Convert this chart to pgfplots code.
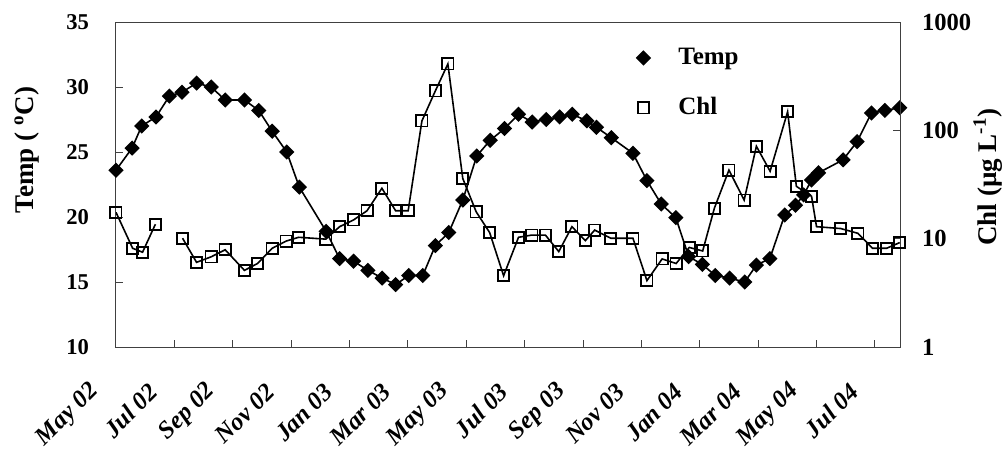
\documentclass[border=0pt]{standalone}
\usepackage{fontspec}
\setmainfont{Liberation Serif}
\usepackage{pgfplots}
\pgfplotsset{compat=1.18}

% Temp (left axis), months since May 2002
\pgfplotstableread{
m t
0 23.6
0.55 25.3
0.88 27.0
1.37 27.7
1.83 29.3
2.26 29.6
2.76 30.3
3.26 30.0
3.74 29.0
4.40 29.0
4.89 28.2
5.35 26.6
5.85 25.0
6.28 22.3
7.20 18.9
7.66 16.8
8.14 16.6
8.63 15.9
9.12 15.3
9.58 14.8
10.03 15.5
10.51 15.5
10.94 17.8
11.40 18.8
11.88 21.3
12.36 24.7
12.82 25.9
13.31 26.8
13.79 27.9
14.26 27.3
14.74 27.5
15.20 27.7
15.63 27.9
16.13 27.4
16.46 26.9
16.97 26.1
17.71 24.9
18.19 22.8
18.68 21.0
19.18 19.95
19.62 16.95
20.09 16.35
20.53 15.5
21.02 15.3
21.54 15.0
21.94 16.3
22.40 16.8
22.91 20.15
23.28 20.9
23.56 21.7
23.83 22.85
24.07 23.4
24.91 24.4
25.39 25.8
25.88 28.0
26.34 28.2
26.85 28.4
}\temp

% Chl (right axis, log)
\pgfplotstableread{
m c
0 17.5
0.57 8.15
0.91 7.5
1.35 13.6
1.83 nan
2.28 10.1
2.76 6.05
3.26 6.8
3.74 7.9
4.40 5.1
4.85 5.9
5.35 8.15
5.83 9.5
6.26 10.3
7.19 9.9
7.66 12.9
8.14 14.9
8.60 18.1
9.11 29.2
9.58 18.1
10.01 18.1
10.48 122
10.94 231
11.37 410
11.88 36
12.34 17.7
12.80 11.4
13.28 4.55
13.79 10.3
14.25 10.8
14.71 10.8
15.17 7.6
15.62 12.9
16.08 9.6
16.40 12.0
16.95 10.1
17.71 10.1
18.19 4.1
18.71 6.5
19.19 5.9
19.64 8.3
20.10 7.7
20.50 19.1
21.00 43
21.52 22.7
21.94 71.3
22.41 41.9
23.01 148.6
23.31 30.4
23.83 24.6
24.00 12.9
24.83 12.4
25.42 11.2
25.92 8.15
26.40 8.15
26.85 9.2
}\chl

\begin{document}
\begin{tikzpicture}
\useasboundingbox (-58pt,-52.5pt) rectangle (443pt,173.5pt);
\pgfplotsset{
  every axis/.append style={
    width=392pt, height=162.5pt, scale only axis,
    at={(0pt,0pt)}, anchor=south west,
    xmin=0, xmax=26.86,
    tick align=inside,
    major tick length=3.5pt,
    axis line style={black!75, line width=0.5pt},
    every tick/.style={black!75, line width=0.5pt},
    /pgf/number format/assume math mode=true,
    tick label style={font=\fontsize{11.3}{13}\selectfont\bfseries},
    label style={font=\fontsize{13.5}{15}\selectfont\bfseries},
  },
  tempstyle/.style={black, line width=0.8pt, mark=square*, mark size=2.3pt,
    mark options={rotate=45, solid}},
  chlstyle/.style={black, line width=0.8pt, mark=square, mark size=2.8pt,
    mark options={solid, line width=0.9pt}},
}
\begin{axis}[
  ymin=10, ymax=35, ytick={10,15,...,35},
  xtick={0,2,...,26},
  xticklabels={May 02,Jul 02,Sep 02,Nov 02,Jan 03,Mar 03,May 03,Jul 03,Sep 03,Nov 03,Jan 04,Mar 04,May 04,Jul 04},
  xtick pos=bottom, ytick pos=left,
  xticklabel style={font=\fontsize{12.4}{14}\selectfont\bfseries\itshape,
    xshift=-8pt, yshift=-18pt, rotate=45, anchor=east},
  yticklabel style={xshift=-10pt},
  ylabel={Temp ( \textsuperscript{o}C)},
  ylabel style={at={(axis description cs:-0.1135,0.606)}, anchor=center},
  legend style={at={(axis description cs:0.649,0.945)}, anchor=north west,
    draw=none, fill=none, row sep=11pt,
    font=\fontsize{12.5}{14}\selectfont\bfseries},
  legend cell align=left,
  legend image code/.code={\draw[#1] plot coordinates {(0.2cm,0cm)}; \path (0cm,0cm) (0.73cm,0cm);},
]
\addplot[tempstyle] table[x=m, y=t] {\temp};
\addlegendentry{Temp}
\addlegendimage{chlstyle}
\addlegendentry{Chl}
\end{axis}
\begin{axis}[
  ymode=log, ymin=1, ymax=1000, ytick={1,10,100,1000},
  yticklabels={1,10,100,1000},
  yminorticks=false,
  axis y line*=right, hide x axis,
  yticklabel style={xshift=7.5pt, font=\fontsize{12.3}{14}\selectfont\bfseries},
  ylabel={Chl (µg L\textsuperscript{-1})},
  ylabel style={at={(axis description cs:1.112,0.523)}, anchor=center},
]
\addplot[chlstyle, unbounded coords=jump] table[x=m, y=c] {\chl};
\end{axis}
\end{tikzpicture}
\end{document}
